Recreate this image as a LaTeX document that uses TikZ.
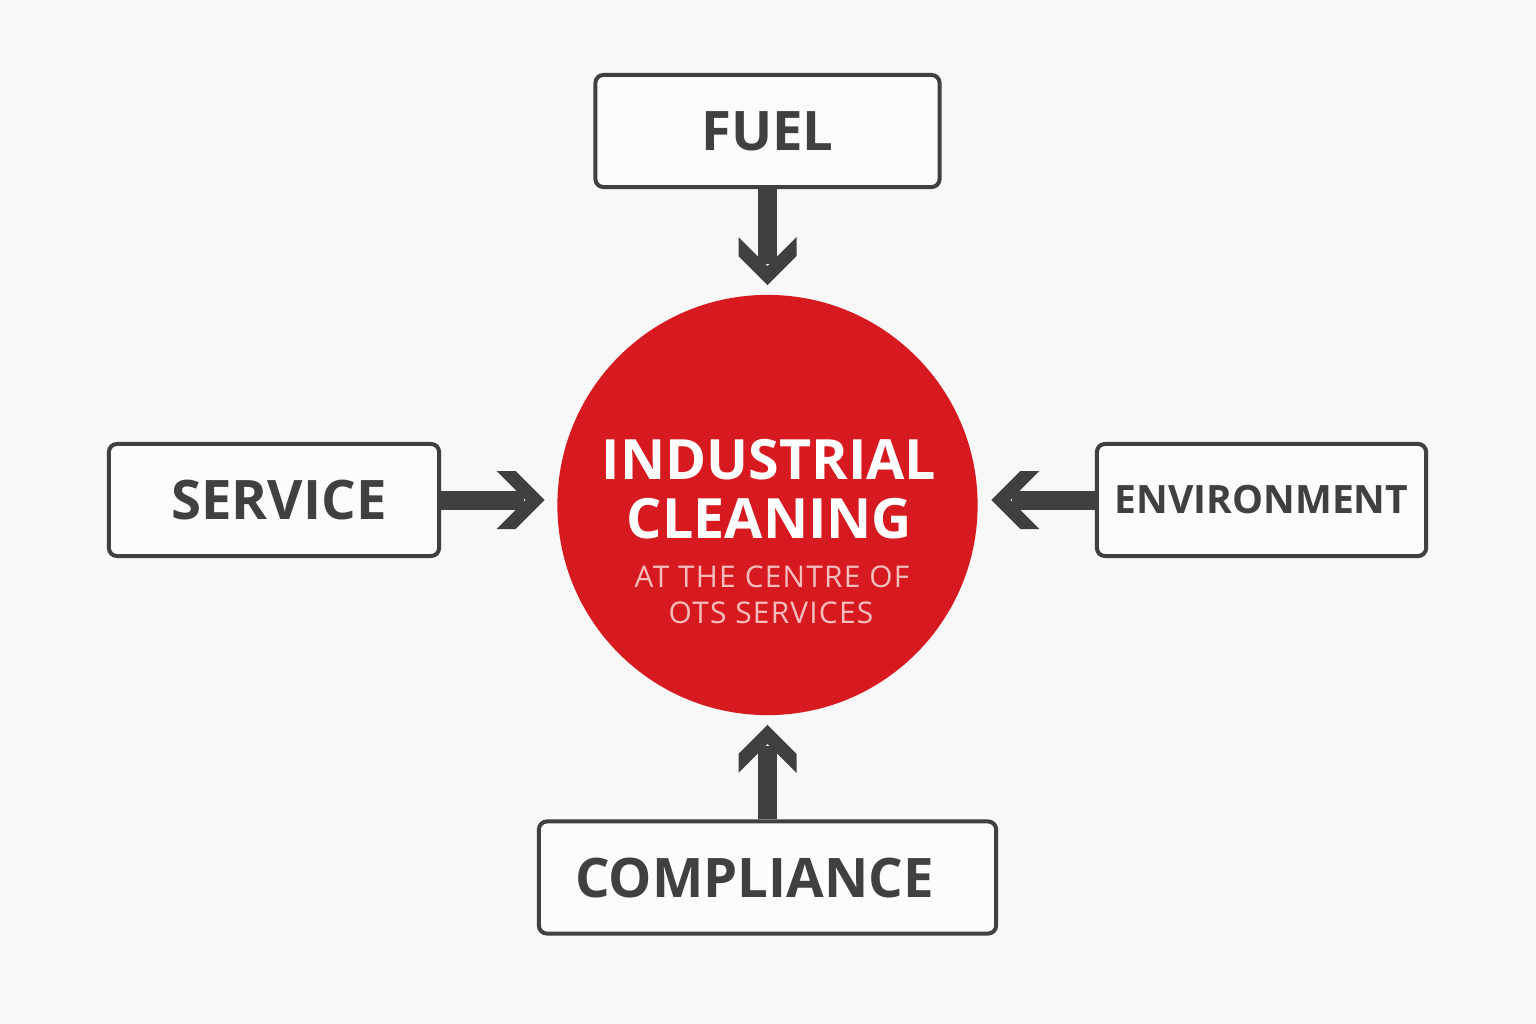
\documentclass[tikz,border=0pt]{standalone}
\usepackage{fontspec}
\setmainfont{Open Sans}
\newfontfamily\subfont{Open Sans}[LetterSpace=4]
\usetikzlibrary{calc}
\definecolor{bg}{HTML}{F8F8F8}
\definecolor{boxfill}{HTML}{FCFCFC}
\definecolor{ink}{HTML}{404040}
\definecolor{redc}{HTML}{D71920}
\definecolor{pinkt}{HTML}{F5BEBC}
\begin{document}
\begin{tikzpicture}[x=0.01cm,y=-0.01cm,
  box/.style={draw=ink, line width=0.04cm, rounded corners=0.08cm, fill=boxfill,
    minimum height=1.12cm, inner sep=0pt, text=ink,
    font=\bfseries\fontsize{15.5}{18}\selectfont},
  shaft/.style={draw=ink, line width=0.19cm},
  chev/.pic={\fill[ink] (0,0) -- (-29,-29) -- (-48,-29) -- (-19,0) -- (-48,29) -- (-29,29) -- cycle;},
  title/.style={anchor=base, text=white, inner sep=0pt, font=\bfseries\fontsize{15.8}{18}\selectfont},
  subt/.style={anchor=base, text=pinkt, inner sep=0pt, font=\subfont\fontsize{8.5}{10}\selectfont}]
\fill[bg] (0,0) rectangle (1536,1024);
\useasboundingbox (0,0) rectangle (1536,1024);

\node[circle, fill=redc, minimum size=4.2cm, inner sep=0pt] (hub) at (767.5,505) {};
\node[box, minimum width=3.44cm] (fuel) at (767.5,131) {FUEL};
\node[box, minimum width=3.30cm] (service) at (274,500) {\hspace*{0.1cm}SERVICE};
\node[box, minimum width=3.29cm, font=\bfseries\fontsize{11.1}{14}\selectfont] (env) at (1261.5,500) {ENVIRONMENT};
\node[box, minimum width=4.57cm] (comp) at (767.5,877.5) {COMPLIANCE\hspace*{0.26cm}};

\coordinate (tf) at ($(hub.north)+(0,-9)$);
\coordinate (ts) at ($(hub.west |- service.east)+(-12,0)$);
\coordinate (te) at ($(hub.east |- env.west)+(13,0)$);
\coordinate (tc) at ($(hub.south)+(0,9)$);

\draw[shaft] (fuel.south) -- ($(tf)+(0,-21)$);
\draw[shaft] (service.east) -- ($(ts)+(-21,0)$);
\draw[shaft] (env.west) -- ($(te)+(21,0)$);
\draw[shaft] (comp.north) -- ($(tc)+(0,21)$);

\pic[rotate=-90] at (tf) {chev};
\pic at (ts) {chev};
\pic[rotate=180] at (te) {chev};
\pic[rotate=90] at (tc) {chev};

\node[title] (l1) at (769,479) {INDUSTRIAL};
\node[title] (l2) at (769.5,538) {CLEANING};
\node[subt] (s1) at (772,587) {AT THE CENTRE OF};
\node[subt] (s2) at (771,623) {OTS SERVICES};
\end{tikzpicture}
\end{document}
